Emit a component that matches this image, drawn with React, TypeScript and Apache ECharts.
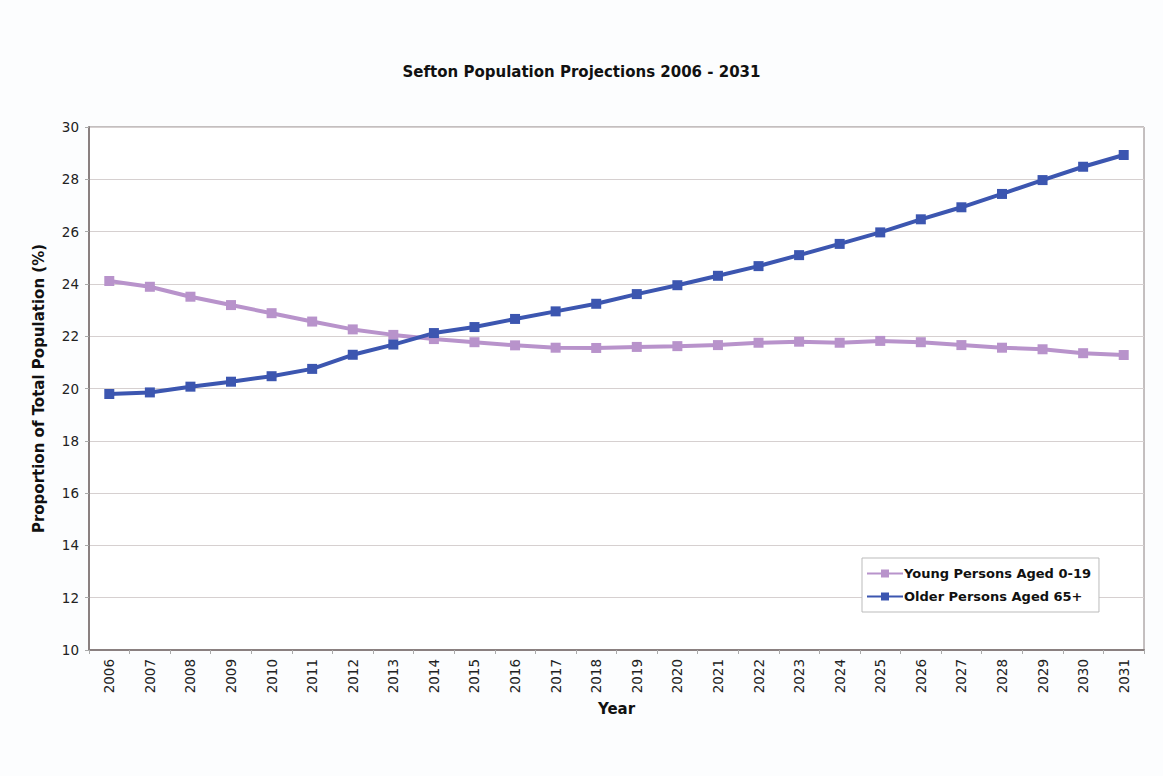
import React, { useEffect, useRef } from "react";
import * as echarts from "echarts";

const years = ["2006","2007","2008","2009","2010","2011","2012","2013","2014","2015","2016","2017","2018","2019","2020","2021","2022","2023","2024","2025","2026","2027","2028","2029","2030","2031"];
const youngPersons = [24.11,23.89,23.51,23.19,22.88,22.56,22.26,22.05,21.89,21.77,21.65,21.56,21.55,21.59,21.62,21.66,21.75,21.79,21.75,21.82,21.77,21.66,21.56,21.5,21.35,21.28];
const olderPersons = [19.79,19.85,20.07,20.26,20.47,20.75,21.29,21.68,22.12,22.35,22.66,22.95,23.24,23.61,23.95,24.31,24.68,25.1,25.53,25.97,26.47,26.93,27.44,27.97,28.48,28.93];

const FONT = "'DejaVu Sans', sans-serif";

export default function App() {
  const ref = useRef<HTMLDivElement>(null);
  useEffect(() => {
    const chart = echarts.init(ref.current!, null, { renderer: "svg" });
    chart.setOption({
      animation: false,
      backgroundColor: "#fcfdfe",
      title: {
        text: "Sefton Population Projections 2006 - 2031",
        left: "center",
        top: 59,
        textStyle: { fontFamily: FONT, fontSize: 15, fontWeight: "bold", color: "#111" },
      },
      legend: {
        orient: "vertical",
        left: 862,
        top: 558,
        padding: [9, 8, 9, 4],
        itemGap: 10,
        itemWidth: 36,
        itemHeight: 10,
        borderColor: "#bbb",
        borderWidth: 1,
        backgroundColor: "#fff",
        textStyle: { fontFamily: FONT, fontSize: 13, fontWeight: "bold", color: "#111", padding: [0, 0, 0, -4] },
        data: ["Young Persons Aged 0-19", "Older Persons Aged 65+"],
      },
      grid: {
        left: 89,
        right: 19,
        top: 127,
        bottom: 126,
        show: true,
        borderColor: "#8a8080",
        borderWidth: 1,
        backgroundColor: "#fff",
      },
      xAxis: {
        type: "category",
        data: years,
        boundaryGap: true,
        name: "Year",
        nameLocation: "middle",
        nameGap: 51,
        nameTextStyle: { fontFamily: FONT, fontSize: 15, fontWeight: "bold", color: "#111" },
        axisLine: { lineStyle: { color: "#8a8080", width: 2 } },
        axisTick: { show: true, length: 4, lineStyle: { color: "#aaa" } },
        axisLabel: { rotate: 90, fontFamily: FONT, fontSize: 13.5, color: "#222", margin: 9 },
        splitLine: { show: false },
      },
      yAxis: {
        type: "value",
        min: 10,
        max: 30,
        interval: 2,
        name: "Proportion of Total Population (%)",
        nameLocation: "middle",
        nameGap: 43,
        nameTextStyle: { fontFamily: FONT, fontSize: 15, fontWeight: "bold", color: "#111" },
        axisLine: { show: true, lineStyle: { color: "#8a8080", width: 2 } },
        axisTick: { show: true, length: 4, lineStyle: { color: "#aaa" } },
        axisLabel: { fontFamily: FONT, fontSize: 13.5, color: "#222", margin: 10 },
        splitLine: { show: true, lineStyle: { color: "#d6d0d0", width: 1 } },
      },
      series: [
        {
          name: "Young Persons Aged 0-19",
          type: "line",
          data: youngPersons,
          symbol: "rect",
          symbolSize: 10,
          color: "#b893cb",
          lineStyle: { width: 4, color: "#b893cb" },
          itemStyle: { color: "#b893cb" },
        },
        {
          name: "Older Persons Aged 65+",
          type: "line",
          data: olderPersons,
          symbol: "rect",
          symbolSize: 10,
          color: "#3c56b0",
          lineStyle: { width: 4, color: "#3c56b0" },
          itemStyle: { color: "#3c56b0" },
        },
      ],
    });
    return () => chart.dispose();
  }, []);
  return <div ref={ref} style={{ width: 1163, height: 776, position: "absolute", left: 0, top: 0 }} />;
}
